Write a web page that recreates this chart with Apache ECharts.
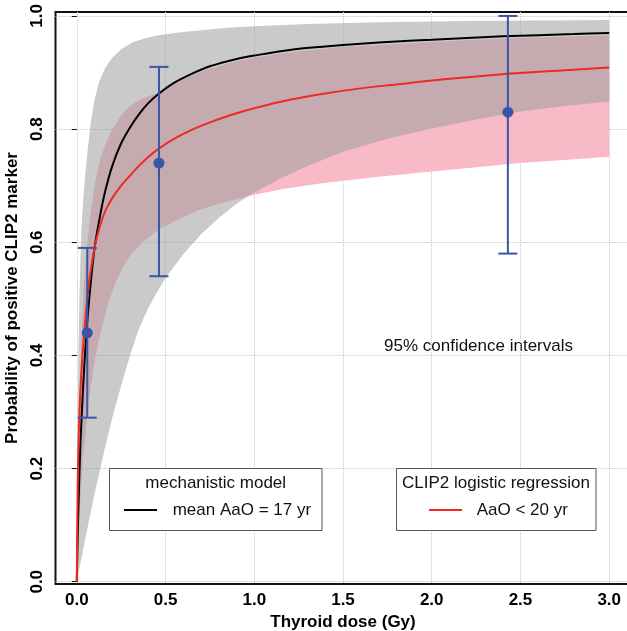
<!DOCTYPE html>
<html>
<head>
<meta charset="utf-8">
<script src="https://cdn.jsdelivr.net/npm/echarts@6/dist/echarts.min.js"></script>
<style>
html, body { margin: 0; padding: 0; background: #fff; }
#main { width: 627px; height: 631px; }
</style>
</head>
<body>
<div id="main"></div>
<script>
// mechanistic model, mean AaO = 17 yr  [dose, prob]
var mechMean = [[0, 0], [0.005, 0.08], [0.01, 0.14], [0.02, 0.24], [0.035, 0.34], [0.05, 0.42], [0.07, 0.50],
	[0.1, 0.59], [0.13, 0.645], [0.16, 0.69], [0.2, 0.735], [0.25, 0.775], [0.3, 0.803], [0.35, 0.826],
	[0.4, 0.845], [0.46, 0.862], [0.55, 0.882], [0.65, 0.898], [0.75, 0.911], [0.9, 0.924], [1.0, 0.930],
	[1.2, 0.940], [1.4, 0.946], [1.6, 0.951], [1.8, 0.955], [2.0, 0.958], [2.4, 0.964], [2.8, 0.968], [3.0, 0.970]];
var mechUpper = [[0, 0], [0.002, 0.15], [0.005, 0.30], [0.01, 0.42], [0.015, 0.50], [0.02, 0.565], [0.025, 0.616],
	[0.03, 0.645], [0.04, 0.69], [0.05, 0.728], [0.062, 0.765], [0.08, 0.815], [0.1, 0.852], [0.124, 0.882],
	[0.16, 0.908], [0.2, 0.926], [0.25, 0.941], [0.313, 0.953], [0.38, 0.960], [0.444, 0.965], [0.55, 0.970],
	[0.67, 0.974], [0.85, 0.979], [1.0, 0.982], [1.3, 0.986], [1.7, 0.989], [2.2, 0.991], [3.0, 0.993]];
var mechLower = [[0, 0], [0.05, 0.08], [0.1, 0.155], [0.15, 0.225], [0.2, 0.29], [0.25, 0.347], [0.3, 0.40],
	[0.35, 0.447], [0.4, 0.482], [0.45, 0.511], [0.5, 0.537], [0.6, 0.579], [0.7, 0.614], [0.8, 0.643],
	[0.9, 0.668], [1.0, 0.688], [1.15, 0.713], [1.3, 0.735], [1.5, 0.760], [1.75, 0.783], [2.0, 0.801],
	[2.25, 0.817], [2.5, 0.831], [2.75, 0.841], [3.0, 0.849]];
// CLIP2 logistic regression, AaO < 20 yr
var logMean = [[0, 0], [0.005, 0.17], [0.015, 0.30], [0.03, 0.39], [0.05, 0.47], [0.07, 0.53], [0.1, 0.59],
	[0.13, 0.628], [0.16, 0.655], [0.2, 0.678], [0.25, 0.700], [0.3, 0.718], [0.35, 0.735], [0.4, 0.750],
	[0.46, 0.765], [0.55, 0.783], [0.65, 0.799], [0.75, 0.812], [0.9, 0.828], [1.0, 0.837], [1.2, 0.852],
	[1.4, 0.863], [1.6, 0.872], [1.8, 0.879], [2.0, 0.886], [2.4, 0.897], [2.8, 0.905], [3.0, 0.909]];
var logUpper = [[0, 0], [0.002, 0.15], [0.006, 0.25], [0.014, 0.33], [0.025, 0.42], [0.04, 0.52], [0.053, 0.58],
	[0.077, 0.65], [0.1, 0.70], [0.13, 0.745], [0.16, 0.772], [0.2, 0.800], [0.25, 0.824], [0.3, 0.841],
	[0.35, 0.851], [0.4, 0.858], [0.46, 0.864], [0.55, 0.880], [0.65, 0.895], [0.75, 0.907], [0.9, 0.920],
	[1.0, 0.926], [1.2, 0.936], [1.5, 0.945], [2.0, 0.954], [2.4, 0.960], [3.0, 0.966]];
var logLower = [[0, 0], [0.015, 0.12], [0.035, 0.22], [0.068, 0.32], [0.1, 0.39], [0.124, 0.427], [0.15, 0.46],
	[0.18, 0.495], [0.22, 0.53], [0.256, 0.553], [0.3, 0.576], [0.37, 0.600], [0.467, 0.624], [0.55, 0.637],
	[0.69, 0.657], [0.8, 0.668], [0.918, 0.678], [1.0, 0.684], [1.16, 0.694], [1.37, 0.704], [1.7, 0.716],
	[2.0, 0.725], [2.5, 0.740], [3.0, 0.751]];
// observed proportions with 95% CI
var obsDose = [0.059, 0.463, 2.429];
var obsProb = [0.44, 0.74, 0.83];
var obsLow = [0.29, 0.54, 0.58];
var obsHigh = [0.59, 0.91, 1.0];

var xTicks = [0, 0.5, 1.0, 1.5, 2.0, 2.5, 3.0];
var yTicks = [0, 0.2, 0.4, 0.6, 0.8, 1.0];

var font = 'Liberation Sans, Arial, Helvetica, sans-serif';
var chart = echarts.init(document.getElementById('main'));

function band(upper, lower, color, z) {
	return {
		type: 'custom',
		z: z,
		silent: true,
		clip: true,
		data: [[0, 0]],
		renderItem: function(params, api) {
			var pts = [];
			upper.forEach(function(p) { pts.push(api.coord(p)); });
			lower.slice().reverse().forEach(function(p) { pts.push(api.coord(p)); });
			return { type: 'polygon', shape: { points: pts }, style: { fill: color } };
		}
	};
}

var errData = obsDose.map(function(d, i) {
	return [d, obsProb[i], obsLow[i], obsHigh[i]];
});

var blue = '#3a55a5';

chart.setOption({
	animation: false,
	grid: {
		left: 55.5,
		top: 12,
		width: 575,
		height: 572,
		outerBoundsMode: 'none',
		containLabel: false,
		show: true,
		borderColor: '#111',
		borderWidth: 2
	},
	xAxis: {
		type: 'value',
		min: -0.12,
		max: 3.12,
		name: 'Thyroid dose (Gy)',
		nameLocation: 'middle',
		nameGap: 27,
		nameTextStyle: { fontFamily: font, fontWeight: 'bold', fontSize: 17, color: '#000' },
		axisLine: { show: false },
		axisTick: { show: false, customValues: xTicks },
		axisLabel: {
			customValues: xTicks,
			margin: 8,
			fontFamily: font, fontWeight: 'bold', fontSize: 17, color: '#000',
			formatter: function(v) { return v.toFixed(1); }
		},
		splitLine: { show: true, lineStyle: { color: '#c4c4c4', type: 'dotted', width: 1 } }
	},
	yAxis: {
		type: 'value',
		min: -0.004,
		max: 1.007,
		name: 'Probability of positive CLIP2 marker',
		nameLocation: 'middle',
		nameGap: 29,
		nameTextStyle: { fontFamily: font, fontWeight: 'bold', fontSize: 17, color: '#000' },
		axisLine: { show: false },
		axisTick: { show: true, customValues: yTicks, length: 5, lineStyle: { color: '#111', width: 1 } },
		axisLabel: {
			customValues: yTicks,
			rotate: 90,
			margin: 10,
			fontFamily: font, fontWeight: 'bold', fontSize: 17, color: '#000',
			formatter: function(v) { return v.toFixed(1); }
		},
		splitLine: { show: true, lineStyle: { color: '#c4c4c4', type: 'dotted', width: 1 } }
	},
	series: [
		band(logUpper, logLower, '#f7bac6', 1),
		band(mechUpper, mechLower, 'rgba(156,158,156,0.55)', 2),
		{
			type: 'line',
			z: 3,
			data: mechMean,
			showSymbol: false,
			smooth: 0.3,
			lineStyle: { color: '#000', width: 2 }
		},
		{
			type: 'line',
			z: 4,
			data: logMean,
			showSymbol: false,
			smooth: 0.3,
			lineStyle: { color: '#ee2a24', width: 2 }
		},
		{
			type: 'custom',
			z: 5,
			data: errData,
			encode: { x: 0, y: [1, 2, 3] },
			renderItem: function(params, api) {
				var x = api.value(0);
				var mid = api.coord([x, api.value(1)]);
				var lo = api.coord([x, api.value(2)]);
				var hi = api.coord([x, api.value(3)]);
				var hw = 9.5;
				var st = { stroke: blue, lineWidth: 2 };
				return {
					type: 'group',
					children: [
						{ type: 'line', shape: { x1: lo[0], y1: lo[1], x2: hi[0], y2: hi[1] }, style: st },
						{ type: 'line', shape: { x1: lo[0] - hw, y1: lo[1], x2: lo[0] + hw, y2: lo[1] }, style: st },
						{ type: 'line', shape: { x1: hi[0] - hw, y1: hi[1], x2: hi[0] + hw, y2: hi[1] }, style: st },
						{ type: 'circle', shape: { cx: mid[0], cy: mid[1], r: 5.5 }, style: { fill: blue } }
					]
				};
			}
		}
	],
	graphic: [
		{ type: 'text', left: 384, top: 338, style: { text: '95% confidence intervals', font: '17px ' + font, fill: '#111' } },
		// legend: mechanistic model
		{ type: 'rect', shape: { x: 109.5, y: 468.5, width: 212.5, height: 62 }, style: { fill: '#fff', stroke: '#555', lineWidth: 1 }, z: 10 },
		{ type: 'text', x: 215.7, y: 483.5, style: { text: 'mechanistic model', font: '17px ' + font, fill: '#111', align: 'center', verticalAlign: 'middle' }, z: 11 },
		{ type: 'line', shape: { x1: 124, y1: 510, x2: 157, y2: 510 }, style: { stroke: '#000', lineWidth: 2 }, z: 11 },
		{ type: 'text', x: 172.7, y: 510.5, style: { text: 'mean AaO = 17 yr', font: '17px ' + font, fill: '#111', align: 'left', verticalAlign: 'middle' }, z: 11 },
		// legend: logistic regression
		{ type: 'rect', shape: { x: 396.5, y: 468.5, width: 199.5, height: 62 }, style: { fill: '#fff', stroke: '#555', lineWidth: 1 }, z: 10 },
		{ type: 'text', x: 496, y: 483.5, style: { text: 'CLIP2 logistic regression', font: '17px ' + font, fill: '#111', align: 'center', verticalAlign: 'middle' }, z: 11 },
		{ type: 'line', shape: { x1: 429, y1: 510, x2: 462, y2: 510 }, style: { stroke: '#ee2a24', lineWidth: 2 }, z: 11 },
		{ type: 'text', x: 476.7, y: 510.5, style: { text: 'AaO < 20 yr', font: '17px ' + font, fill: '#111', align: 'left', verticalAlign: 'middle' }, z: 11 }
	]
});
</script>
</body>
</html>
